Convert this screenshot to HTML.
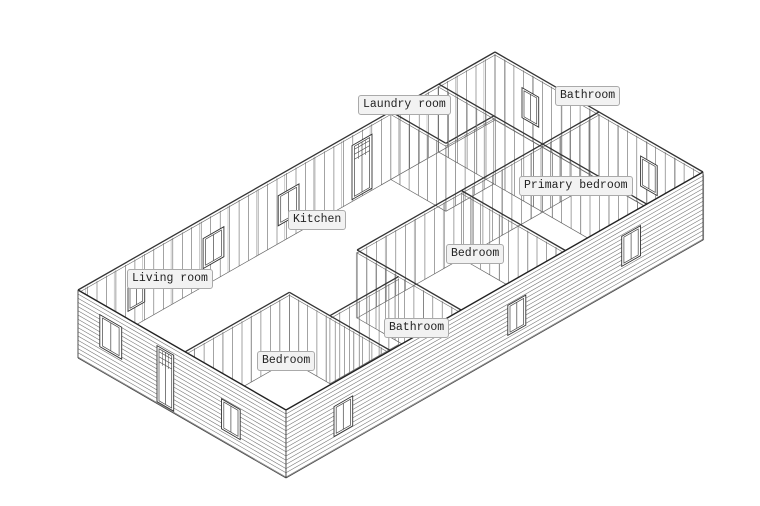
<!DOCTYPE html>
<html><head><meta charset="utf-8">
<style>
html,body{margin:0;padding:0;background:#fff;width:760px;height:506px;overflow:hidden}
#c{position:absolute;left:0;top:0}
.l{position:absolute;font-family:"Liberation Mono",monospace;font-size:11.5px;color:#222;background:#f2f2f2;border:1px solid #aaa;border-radius:3px;padding:2px 4px;line-height:14px;white-space:nowrap}
</style></head><body>
<svg id="c" width="760" height="506" viewBox="0 0 760 506"></svg>
<div class="l" style="left:358px;top:95px">Laundry room</div>
<div class="l" style="left:555px;top:86px">Bathroom</div>
<div class="l" style="left:519px;top:176px">Primary bedroom</div>
<div class="l" style="left:288px;top:210px">Kitchen</div>
<div class="l" style="left:446px;top:244px">Bedroom</div>
<div class="l" style="left:127px;top:269px">Living room</div>
<div class="l" style="left:384px;top:318px">Bathroom</div>
<div class="l" style="left:257px;top:351px">Bedroom</div>
<script>
var s='';
function P(a,b,z){return [495-417*a+208*b,52+238*a+120*b+z];}
function L(p,q,w,c){s+='<line x1="'+p[0].toFixed(1)+'" y1="'+p[1].toFixed(1)+'" x2="'+q[0].toFixed(1)+'" y2="'+q[1].toFixed(1)+'" stroke="'+(c||'#555')+'" stroke-width="'+(w||0.7)+'"/>';}
function poly(pts,fill,st,w){s+='<polygon points="'+pts.map(function(p){return p[0].toFixed(1)+','+p[1].toFixed(1)}).join(' ')+'" fill="'+fill+'" stroke="'+(st||'none')+'" stroke-width="'+(w||0.7)+'"/>';}
var H=68;
function pt(a1,b1,a2,b2,t,z){return P(a1+(a2-a1)*t,b1+(b2-b1)*t,z);}
function studs(a1,b1,a2,b2){
 var p1=P(a1,b1,0),p2=P(a2,b2,0);
 var len=Math.hypot(p2[0]-p1[0],p2[1]-p1[1]);
 var n=Math.max(2,Math.round(len/11));
 for(var i=0;i<=n;i++){var t=i/n;L(pt(a1,b1,a2,b2,t,2),pt(a1,b1,a2,b2,t,H),0.6,'#666');
  if(i%3==1){L(pt(a1,b1,a2,b2,t+0.004,2),pt(a1,b1,a2,b2,t+0.004,H),0.5,'#999');}}
 L(P(a1,b1,0),P(a2,b2,0),1.3,'#333');L(P(a1,b1,3),P(a2,b2,3),0.6,'#666');
 L(P(a1,b1,H),P(a2,b2,H),0.7,'#666');
}
function win(a1,b1,a2,b2,t1,t2,z1,z2,door){
 var d=t2-t1;
 var A=pt(a1,b1,a2,b2,t1,z1),B=pt(a1,b1,a2,b2,t2,z1),C=pt(a1,b1,a2,b2,t2,z2),D=pt(a1,b1,a2,b2,t1,z2);
 poly([A,B,C,D],'#fff','#333',0.9);
 var A2=pt(a1,b1,a2,b2,t1+0.12*d,z1+2),B2=pt(a1,b1,a2,b2,t2-0.12*d,z1+2),C2=pt(a1,b1,a2,b2,t2-0.12*d,z2-2),D2=pt(a1,b1,a2,b2,t1+0.12*d,z2-2);
 poly([A2,B2,C2,D2],'none','#444',0.7);
 var m=(t1+t2)/2;L(pt(a1,b1,a2,b2,m,z1+2),pt(a1,b1,a2,b2,m,z2-2),0.7,'#444');
 if(door){for(var k=1;k<4;k++){var z=z1+k*5;L(pt(a1,b1,a2,b2,t1+0.12*d,z),pt(a1,b1,a2,b2,t2-0.12*d,z),0.6,'#444');}
  L(pt(a1,b1,a2,b2,t1+0.33*d,z1+2),pt(a1,b1,a2,b2,t1+0.33*d,z1+17),0.5,'#444');L(pt(a1,b1,a2,b2,t1+0.67*d,z1+2),pt(a1,b1,a2,b2,t1+0.67*d,z1+17),0.5,'#444');}
}
function siding(a1,b1,a2,b2){
 poly([P(a1,b1,0),P(a2,b2,0),P(a2,b2,H),P(a1,b1,H)],'#fff');
 for(var z=4;z<=H;z+=4.2){L(P(a1,b1,z),P(a2,b2,z),0.6,'#777');}
 L(P(a1,b1,0),P(a2,b2,0),1.4,'#222');L(P(a1,b1,H),P(a2,b2,H),0.8,'#444');
 L(P(a1,b1,0),P(a1,b1,H),0.9,'#444');L(P(a2,b2,0),P(a2,b2,H),0.9,'#444');
}
// back walls
studs(0,0,1,0);studs(0,0,0,1);
win(0,0,1,0,0.84,0.88,20,50);win(0,0,1,0,0.65,0.70,20,50);win(0,0,1,0,0.47,0.52,20,50);win(0,0,1,0,0.295,0.343,12,66,true);
win(0,0,0,1,0.13,0.21,20,50);win(0,0,0,1,0.70,0.78,20,50);
// partitions
studs(0.25,0,0.25,0.265);studs(0.25,0.265,0.135,0.265);studs(0.135,0,0.135,0.5);
studs(0,0.5,0.58,0.5);studs(0.33,0.5,0.33,1);studs(0.58,0.5,0.58,1);
studs(0.585,0.71,0.75,0.71);studs(0.75,0.515,0.75,1);studs(0.75,0.515,1,0.515);
studs(0.135,0.5,0.135,1);
// front outer walls
siding(1,0,1,1);siding(0,1,1,1);
win(1,0,1,1,0.105,0.21,12,44);win(1,0,1,1,0.69,0.78,26,56);win(1,0,1,1,0.38,0.46,10,66,true);
win(0,1,1,1,0.84,0.885,24,54);win(0,1,1,1,0.425,0.468,22,52);win(0,1,1,1,0.15,0.195,18,48);
document.getElementById('c').innerHTML=s;
</script>
</body></html>
